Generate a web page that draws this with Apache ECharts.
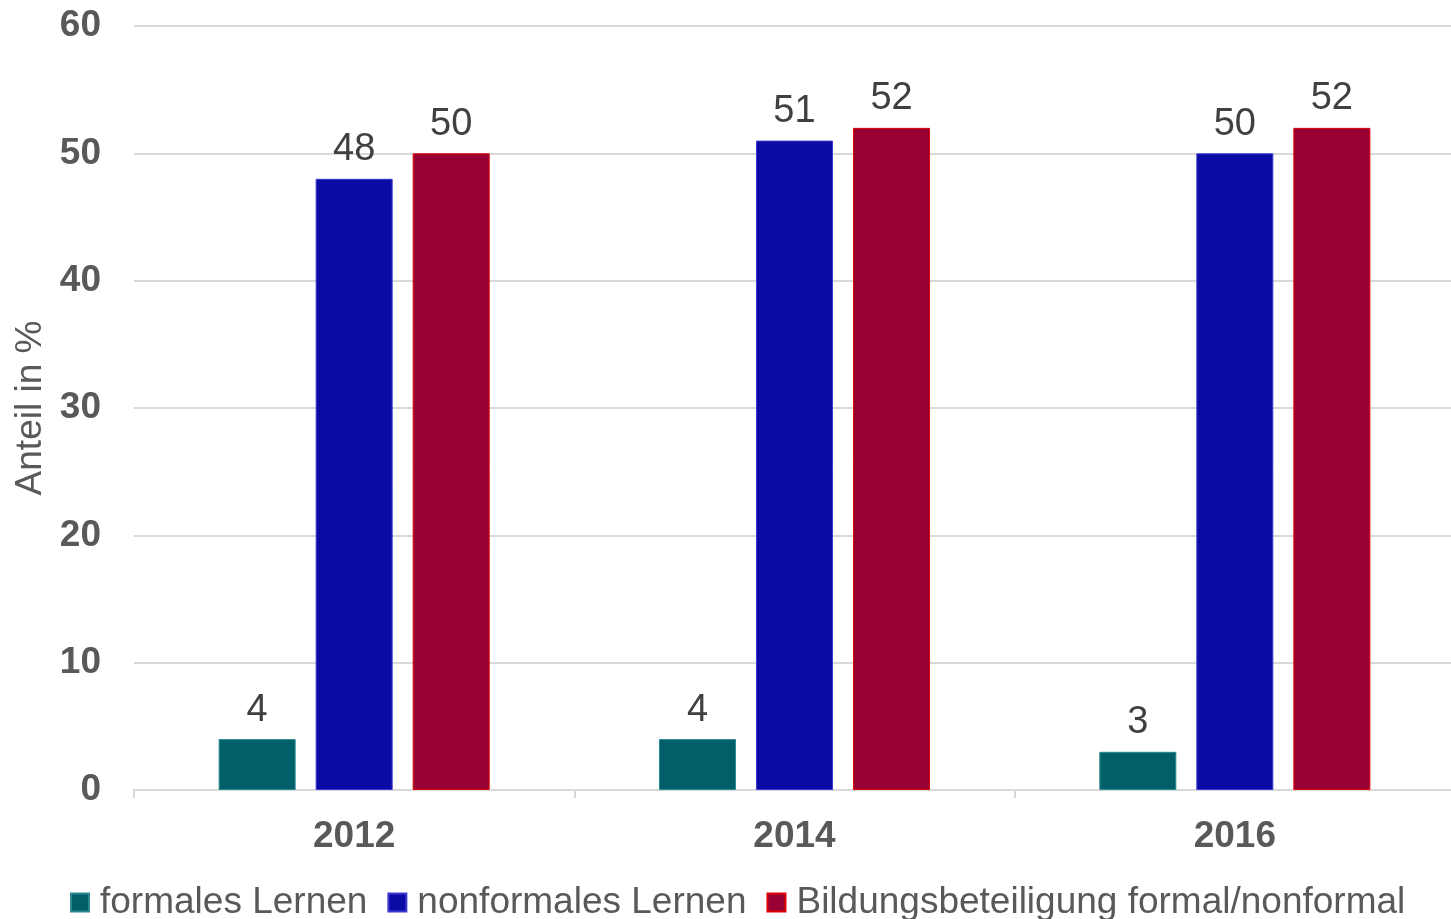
<!DOCTYPE html>
<html><head><meta charset="utf-8">
<script src="https://cdn.jsdelivr.net/npm/echarts@6/dist/echarts.min.js"></script>
<style>html,body{margin:0;padding:0;background:#fff}#c{width:1451px;height:919px}</style>
</head><body><div id="c"></div>
<script>
const categories = ['2012', '2014', '2016'];
const formalesLernen = [4, 4, 3];
const nonformalesLernen = [48, 51, 50];
const bildungsbeteiligung = [50, 52, 52];
const seriesNames = ['formales Lernen', 'nonformales Lernen', 'Bildungsbeteiligung formal/nonformal'];
const yTicks = { min: 0, max: 60, interval: 10 };

const font = '"Liberation Sans", Arial, sans-serif';
const chart = echarts.init(document.getElementById('c'));
const label = { show: true, position: 'top', distance: 10, fontFamily: font, fontSize: 38, color: '#404040' };
chart.setOption({
  animation: false,
  grid: { left: 134, right: -4, top: 26, bottom: 129, containLabel: false, outerBoundsMode: 'none' },
  legend: {
    top: 879, left: 65,
    itemWidth: 18, itemHeight: 18, itemGap: 20,
    icon: 'rect',
    formatter: '{g|}{name}',
    textStyle: { fontFamily: font, fontSize: 37, color: '#595959', rich: { g: { width: 6 } } },
    data: seriesNames
  },
  xAxis: {
    type: 'category', data: categories,
    axisLine: { lineStyle: { color: '#d9d9d9', width: 2 } },
    axisTick: { show: true, length: 8, lineStyle: { color: '#d9d9d9', width: 2 } },
    axisLabel: { fontFamily: font, fontSize: 37, fontWeight: 'bold', color: '#595959', margin: 28 }
  },
  yAxis: {
    type: 'value', min: yTicks.min, max: yTicks.max, interval: yTicks.interval,
    name: 'Anteil in %', nameLocation: 'middle', nameGap: 83,
    nameTextStyle: { fontFamily: font, fontSize: 37, color: '#595959' },
    axisLine: { show: false }, axisTick: { show: false },
    axisLabel: { fontFamily: font, fontSize: 37, fontWeight: 'bold', color: '#595959', margin: 33 },
    splitLine: { lineStyle: { color: '#d9d9d9', width: 2 } }
  },
  series: [
    { name: seriesNames[0], type: 'bar', data: formalesLernen, barWidth: 77, barGap: '26%',
      itemStyle: { color: '#005f68', borderColor: '#2a8a90', borderWidth: 1 }, label },
    { name: seriesNames[1], type: 'bar', data: nonformalesLernen, barWidth: 77, barGap: '26%',
      itemStyle: { color: '#0a0aa5', borderColor: '#3a3ad0', borderWidth: 1 }, label },
    { name: seriesNames[2], type: 'bar', data: bildungsbeteiligung, barWidth: 77, barGap: '26%',
      itemStyle: { color: '#990033', borderColor: '#e00000', borderWidth: 1 }, label }
  ]
});
</script></body></html>
